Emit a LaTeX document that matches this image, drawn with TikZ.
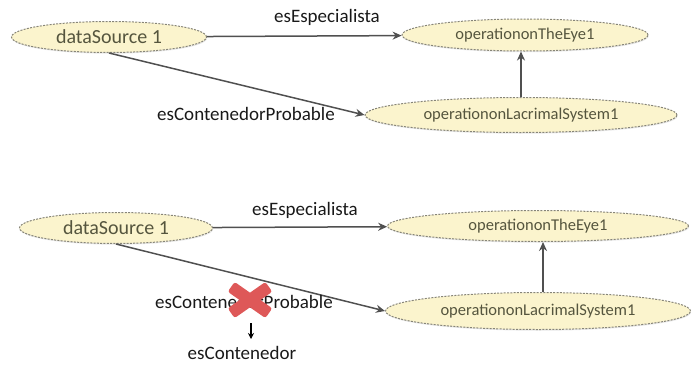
\documentclass[tikz,border=0pt]{standalone}
\usepackage{fontspec}
\setmainfont{Carlito}
\usetikzlibrary{arrows.meta,shapes.geometric,shadows}
\definecolor{nodefill}{RGB}{251,244,205}
\definecolor{nodeline}{RGB}{135,133,120}
\definecolor{nodetext}{RGB}{85,85,62}
\definecolor{linkcol}{RGB}{80,80,80}
\definecolor{xred}{RGB}{222,88,88}
\begin{document}
\begin{tikzpicture}[x=1pt,y=-1pt,
  ent/.style={ellipse, draw=nodeline, fill=nodefill, dash pattern=on 2pt off 1.3pt,
    line width=1pt, inner sep=0pt, text=nodetext,
    drop shadow={opacity=0.18, shadow xshift=0.6pt, shadow yshift=-1.2pt},
    font=\fontsize{16.5}{19}\selectfont},
  bigent/.style={ent, font=\fontsize{20}{23}\selectfont},
  link/.style={draw=linkcol, line width=1.5pt, -{Stealth[length=9pt,width=8pt]}},
  lbl/.style={font=\fontsize{19}{22}\selectfont, text=black!90, inner sep=0pt},
  xarm/.style={fill=xred, rounded corners=2.5pt}
]
\useasboundingbox (0,0) rectangle (691,367);

% ---------- top diagram ----------
\node[bigent, minimum width=195pt, minimum height=31pt] (ds1) at (109,37) {dataSource 1};
\node[ent, minimum width=246pt, minimum height=32pt] (eye1) at (525,35) {operationonTheEye1};
\node[ent, minimum width=312pt, minimum height=35pt] (lac1) at (521,115) {operationonLacrimalSystem1};

\draw[link] (ds1) -- (eye1);
\draw[link] (ds1.south) -- (lac1.west);
\draw[link] (lac1.north) -- (lac1.north |- eye1.south);

\node[lbl] (esp1) at (327,17) {esEspecialista};
\node[lbl] (cp1) at (246,114) {esContenedorProbable};

% ---------- bottom diagram ----------
\node[bigent, minimum width=193pt, minimum height=31pt] (ds2) at (116,228) {dataSource 1};
\node[ent, minimum width=301pt, minimum height=31pt] (eye2) at (538,226) {operationonTheEye1};
\node[ent, minimum width=305pt, minimum height=37pt] (lac2) at (538,311) {operationonLacrimalSystem1};

\draw[link] (ds2) -- (eye2);
\draw[link] (ds2.south) -- (lac2.west);
\draw[link] ([xshift=5pt]lac2.north) -- ([xshift=5pt]lac2.north |- eye2.south);

\node[lbl] (esp2) at (305,210) {esEspecialista};
\node[lbl] (cp2) at (244,302) {esContenedorProbable};
\node[lbl] (esc) at (242,353) {esContenedor};

% red cross over the label
\begin{scope}[shift={(250,300)}]
  \fill[xarm, rotate=35] (-23,-6) rectangle (23,6);
  \fill[xarm, rotate=-35] (-23,-6) rectangle (23,6);
\end{scope}

% small black arrow
\coordinate (dA) at (251,323);
\coordinate (dB) at (251,339);
\draw[black, line width=1.2pt, -{Stealth[length=6pt,width=6pt]}] (dA) -- (dB);
\end{tikzpicture}
\end{document}
